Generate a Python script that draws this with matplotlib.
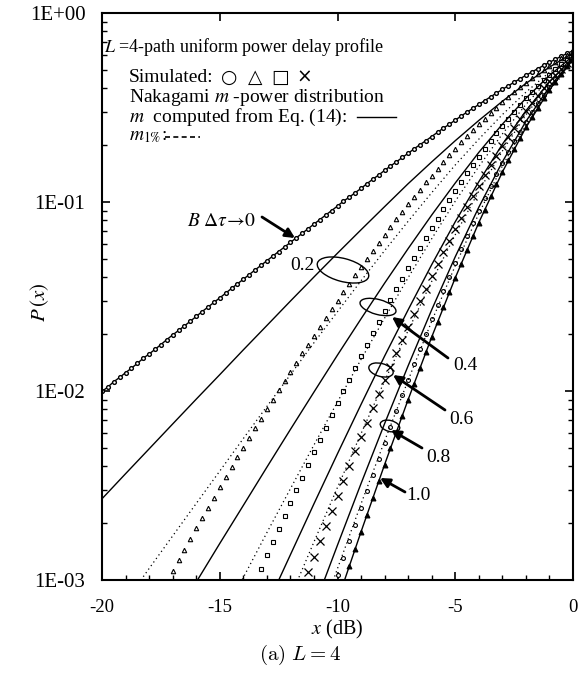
import numpy as np
import matplotlib
matplotlib.use('Agg')
import matplotlib.pyplot as plt
from matplotlib.patches import Ellipse
from matplotlib.ticker import MultipleLocator, LogLocator, NullFormatter, FuncFormatter
from matplotlib.transforms import IdentityTransform

# simulated points every 0.25 dB, Nakagami curves every 1 dB
STEP_SIM = 0.25
STEP_LINE = 1.0

# B*dtau -> 0 (Rayleigh), starts at -20 dB
ray_x0 = -20.0
ray_p = [0.00995, 0.0105, 0.0112, 0.0118, 0.0125, 0.0132, 0.014, 0.0149, 0.0157, 0.0166,
         0.0176, 0.0187, 0.0198, 0.0209, 0.0221, 0.0234, 0.0248, 0.0263, 0.0278, 0.0294,
         0.0311, 0.0329, 0.0349, 0.0369, 0.039, 0.0413, 0.0437, 0.0462, 0.0489, 0.0517,
         0.0547, 0.0578, 0.0611, 0.0646, 0.0683, 0.0722, 0.0764, 0.0807, 0.0853, 0.0901,
         0.0952, 0.101, 0.106, 0.112, 0.118, 0.125, 0.132, 0.139, 0.147, 0.155,
         0.163, 0.172, 0.181, 0.191, 0.201, 0.211, 0.222, 0.234, 0.246, 0.258,
         0.271, 0.285, 0.299, 0.313, 0.328, 0.344, 0.36, 0.377, 0.394, 0.412,
         0.43, 0.449, 0.468, 0.487, 0.507, 0.528, 0.548, 0.569, 0.59, 0.611, 0.632]

# simulated
sim_02 = [983e-6, 112e-5, 128e-5, 145e-5, 165e-5, 188e-5, 213e-5, 241e-5, 273e-5, 309e-5,
          349e-5, 394e-5, 445e-5, 501e-5, 564e-5, 635e-5, 714e-5, 801e-5, 899e-5, 101e-4,
          113e-4, 126e-4, 141e-4, 158e-4, 176e-4, 196e-4, 219e-4, 243e-4, 271e-4, 301e-4,
          334e-4, 370e-4, 410e-4, 453e-4, 501e-4, 552e-4, 609e-4, 671e-4, 737e-4,
          810e-4, 888e-4, 973e-4, 106e-3, 116e-3, 127e-3, 138e-3, 150e-3, 163e-3, 177e-3,
          191e-3, 207e-3, 223e-3, 240e-3, 258e-3, 276e-3, 296e-3, 316e-3, 337e-3, 359e-3,
          381e-3, 404e-3, 428e-3, 452e-3, 476e-3, 501e-3, 526e-3, 551e-3, 576e-3, 602e-3, 627e-3]
sim_04 = [972e-6, 114e-5, 135e-5, 158e-5, 186e-5, 218e-5, 255e-5, 298e-5, 348e-5, 407e-5,
          474e-5, 551e-5, 641e-5, 744e-5, 862e-5, 998e-5, 115e-4, 133e-4, 153e-4, 176e-4,
          202e-4, 232e-4, 265e-4, 303e-4, 345e-4, 393e-4, 446e-4, 506e-4, 572e-4, 646e-4,
          727e-4, 817e-4, 916e-4, 103e-3, 114e-3, 127e-3, 142e-3, 157e-3, 174e-3, 191e-3,
          211e-3, 231e-3, 253e-3, 276e-3, 301e-3, 326e-3, 353e-3, 381e-3, 411e-3, 441e-3,
          472e-3, 503e-3, 535e-3, 567e-3, 599e-3]
sim_06 = [906e-6, 110e-5, 133e-5, 160e-5, 193e-5, 233e-5, 279e-5, 335e-5, 401e-5, 479e-5,
          572e-5, 681e-5, 809e-5, 959e-5, 114e-4, 134e-4, 158e-4, 186e-4, 218e-4, 255e-4,
          298e-4, 347e-4, 404e-4, 468e-4, 541e-4, 625e-4, 719e-4, 824e-4, 943e-4, 108e-3,
          122e-3, 139e-3, 157e-3, 176e-3, 198e-3, 221e-3, 247e-3, 274e-3, 303e-3, 334e-3,
          366e-3, 400e-3, 435e-3, 471e-3, 508e-3, 546e-3, 584e-3]
sim_08 = [106e-5, 130e-5, 160e-5, 196e-5, 240e-5, 294e-5, 359e-5, 438e-5, 533e-5, 648e-5,
          786e-5, 952e-5, 115e-4, 139e-4, 167e-4, 200e-4, 239e-4, 285e-4, 339e-4, 403e-4,
          476e-4, 561e-4, 659e-4, 772e-4, 901e-4, 105e-3, 121e-3, 140e-3, 160e-3, 183e-3,
          209e-3, 236e-3, 266e-3, 298e-3, 333e-3, 370e-3, 408e-3, 448e-3, 489e-3, 531e-3, 574e-3]
sim_10 = [959e-6, 118e-5, 146e-5, 180e-5, 221e-5, 271e-5, 333e-5, 408e-5, 498e-5, 608e-5,
          741e-5, 901e-5, 109e-4, 132e-4, 160e-4, 193e-4, 232e-4, 278e-4, 333e-4, 397e-4,
          472e-4, 559e-4, 661e-4, 778e-4, 912e-4, 107e-3, 124e-3, 144e-3, 166e-3, 190e-3,
          218e-3, 248e-3, 280e-3, 315e-3, 353e-3, 392e-3, 434e-3, 477e-3, 522e-3, 567e-3]
sim_x0 = {0.2: -17.25, 0.4: -13.5, 0.6: -11.5, 0.8: -10.0, 1.0: -9.75}

# Nakagami, m from Eq. (14)
eq14_02 = [269e-5, 365e-5, 494e-5, 669e-5, 905e-5, 122e-4, 165e-4, 222e-4, 299e-4, 401e-4,
           536e-4, 713e-4, 945e-4, 125e-3, 163e-3, 211e-3, 270e-3, 341e-3, 424e-3, 517e-3, 615e-3]
eq14_04 = [974e-6, 156e-5, 248e-5, 395e-5, 626e-5, 987e-5, 155e-4, 241e-4, 372e-4, 567e-4,
           853e-4, 126e-3, 183e-3, 258e-3, 354e-3, 467e-3, 592e-3]
eq14_06 = [730e-6, 136e-5, 253e-5, 466e-5, 849e-5, 153e-4, 269e-4, 466e-4, 786e-4, 128e-3,
           202e-3, 304e-3, 432e-3, 579e-3]
eq14_08 = [716e-6, 153e-5, 324e-5, 672e-5, 136e-4, 269e-4, 513e-4, 938e-4, 163e-3, 267e-3,
           406e-3, 571e-3]
eq14_10 = [776e-6, 180e-5, 408e-5, 901e-5, 193e-4, 397e-4, 778e-4, 144e-3, 248e-3, 392e-3, 567e-3]
eq14_x0 = {0.2: -20.0, 0.4: -16.0, 0.6: -13.0, 0.8: -11.0, 1.0: -10.0}

# Nakagami, m_1%
m1_02 = [768e-6, 115e-5, 171e-5, 254e-5, 377e-5, 560e-5, 828e-5, 122e-4, 180e-4, 263e-4,
         383e-4, 553e-4, 791e-4, 112e-3, 157e-3, 215e-3, 290e-3, 381e-3, 486e-3, 600e-3]
m1_04 = [599e-6, 103e-5, 178e-5, 304e-5, 518e-5, 876e-5, 147e-4, 243e-4, 398e-4, 639e-4,
         101e-3, 154e-3, 229e-3, 328e-3, 450e-3, 585e-3]
m1_06 = [809e-6, 159e-5, 309e-5, 595e-5, 113e-4, 209e-4, 380e-4, 671e-4, 114e-3, 186e-3,
         289e-3, 422e-3, 576e-3]
m1_08 = [517e-6, 115e-5, 253e-5, 544e-5, 114e-4, 234e-4, 460e-4, 867e-4, 155e-3, 258e-3,
         400e-3, 569e-3]
m1_x0 = {0.2: -19.0, 0.4: -15.0, 0.6: -12.0, 0.8: -11.0}

sim = {0.2: sim_02, 0.4: sim_04, 0.6: sim_06, 0.8: sim_08, 1.0: sim_10}
eq14 = {0.2: eq14_02, 0.4: eq14_04, 0.6: eq14_06, 0.8: eq14_08, 1.0: eq14_10}
m1 = {0.2: m1_02, 0.4: m1_04, 0.6: m1_06, 0.8: m1_08}


def xs(x0, vals, step):
    return x0 + step*np.arange(len(vals))


plt.rcParams['font.family'] = ['Liberation Serif', 'DejaVu Sans']
plt.rcParams['mathtext.fontset'] = 'stix'
plt.rcParams['axes.unicode_minus'] = False

W, H = 584, 676
fig = plt.figure(figsize=(W/100, H/100), dpi=100)
ax = fig.add_axes([102/W, 1-580/H, 471/W, 567/H])
ax.set_yscale('log')

ax.plot(xs(ray_x0, ray_p, STEP_SIM), ray_p, '-', color='k', lw=1, marker='o', ms=2.7, mfc='white', mew=1.0)
styles = {0.2: dict(marker='^', ms=3.2, mfc='white', mew=0.8),
          0.4: dict(marker='s', ms=2.8, mfc='white', mew=0.8),
          0.6: dict(marker='x', ms=5.5, mew=0.9),
          0.8: dict(marker='o', ms=2.8, mfc='white', mew=0.8),
          1.0: dict(marker='^', ms=3.5, mfc='k', mew=0.8)}
for b in sim:
    ax.plot(xs(sim_x0[b], sim[b], STEP_SIM), sim[b], ls='none', color='k', **styles[b])
    ax.plot(xs(eq14_x0[b], eq14[b], STEP_LINE), eq14[b], '-', color='k', lw=1.0)
    if b in m1:
        ax.plot(xs(m1_x0[b], m1[b], STEP_LINE), m1[b], color='k', lw=0.9, ls=(0, (1, 2.5)))

ax.set_xlim(-20, 0)
ax.set_ylim(1e-3, 1)
ax.xaxis.set_major_locator(MultipleLocator(5))
ax.xaxis.set_minor_locator(MultipleLocator(1))
ax.yaxis.set_major_locator(LogLocator(base=10))
ax.yaxis.set_minor_locator(LogLocator(base=10, subs=np.arange(2, 10)))
ax.yaxis.set_minor_formatter(NullFormatter())
ax.yaxis.set_major_formatter(FuncFormatter(lambda v, p: f"1E{int(round(np.log10(v))):+03d}"))
ax.tick_params(which='both', direction='in', top=True, right=True)
ax.tick_params(axis='x', which='major', pad=14, length=6, width=1.2, labelsize=13.5)
ax.tick_params(axis='y', which='major', pad=12, length=6, width=1.2, labelsize=15)
ax.tick_params(which='minor', length=3.5, width=1.0)
ax.tick_params(axis='x', which='minor', top=False)
for s in ax.spines.values():
    s.set_linewidth(1.5)

ax.set_xlabel(r"$x$ (dB)", fontsize=14.5, labelpad=1)
ax.set_ylabel(r"$P\,(x)$", fontsize=15, va='center')
ax.yaxis.set_label_coords(-0.132, 0.49)


def fx(x):
    return x/W


def fy(y):
    return 1-y/H


# legend block
fig.text(fx(104), fy(47), r"$L$ =4-path uniform power delay profile", fontsize=13, va='center')
fig.text(fx(129), fy(77), "Simulated:", fontsize=14, va='center')
for xp, sym in zip([229, 255, 280, 304], ["○", "△", "□", "×"]):
    fig.text(fx(xp), fy(77), sym, fontsize=13.5, va='center', ha='center', family='DejaVu Sans')
fig.text(fx(129), fy(98), r"Nakagami $m$ -power distribution", fontsize=14, va='center')
fig.text(fx(129), fy(117), r"$m$  computed from Eq. (14):", fontsize=14, va='center')
fig.text(fx(129), fy(137), r"$m_{1\%}$:", fontsize=14, va='center')
fig.add_artist(plt.Line2D([fx(357), fx(396)], [fy(117), fy(117)], color='k', lw=1.0))
fig.add_artist(plt.Line2D([fx(165), fx(200)], [fy(137), fy(137)], color='k', lw=1.2, ls=(0, (3, 2))))


def px2data(x, y):
    return -20 + (x-102)/23.55, 10**(-(y-13)/189)


# annotations
arrow = dict(arrowstyle='-|>', lw=2, color='k', mutation_scale=14, shrinkA=0, shrinkB=0)
for (tx, ty), (sx, sy), (hx, hy), lab in [((465, 366), (448, 358), (392, 317), "0.4"),
                                          ((461, 419), (445, 410), (393, 375), "0.6"),
                                          ((438, 458), (422, 448), (391, 430), "0.8"),
                                          ((418, 496), (405, 492), (380, 478), "1.0")]:
    ax.annotate('', xy=px2data(hx, hy), xytext=px2data(sx, sy), arrowprops=arrow)
    ax.text(*px2data(tx, ty), lab, fontsize=14, ha='center', va='center')
ax.annotate('', xy=px2data(295, 238), xytext=px2data(262, 217), arrowprops=arrow)
ax.text(*px2data(222, 222), r"$B\ \Delta\tau\!\rightarrow\!0$", fontsize=14, ha='center', va='center')
ax.text(*px2data(302, 265), "0.2", fontsize=14, ha='center', va='center')
for cx, cy, w, h in [(343, 270, 53, 23), (378, 307, 37, 15), (381, 370, 25, 13), (390, 426, 20, 11)]:
    fig.add_artist(Ellipse((cx, H-cy), w, h, angle=-15, fill=False, lw=1.0, ec='k',
                           transform=IdentityTransform()))

fig.text(fx(300), fy(655), r"$\mathrm{(a)}\ L = 4$", fontsize=15, ha='center', va='center',
         math_fontfamily='cm')

fig.savefig('out.png', dpi=100)
